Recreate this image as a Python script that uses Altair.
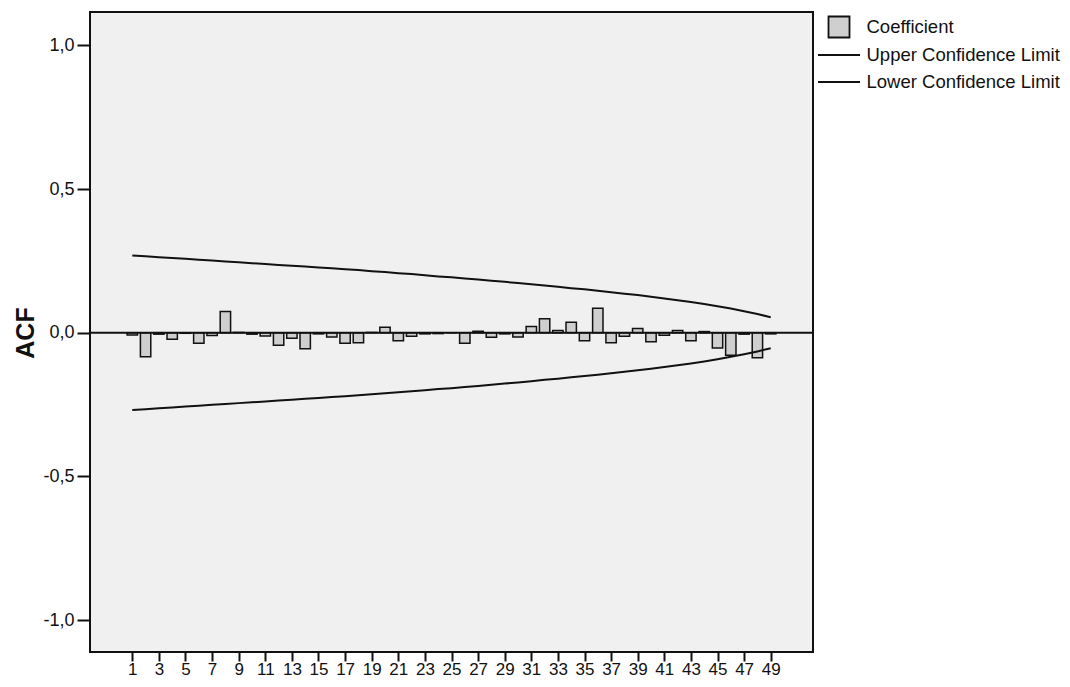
import altair as alt
import pandas as pd

# ---- data ----
lags = list(range(1, 50))
acf = [-0.008, -0.084, -0.005, -0.023, -0.002, -0.037, -0.010, 0.074, 0.001, -0.005,
       -0.011, -0.044, -0.019, -0.056, -0.004, -0.015, -0.037, -0.035, 0.001, 0.019,
       -0.028, -0.012, -0.004, -0.003, 0.000, -0.037, 0.005, -0.016, -0.004, -0.015,
       0.022, 0.049, 0.008, 0.036, -0.028, 0.085, -0.035, -0.012, 0.015, -0.031,
       -0.009, 0.008, -0.028, 0.004, -0.053, -0.078, -0.005, -0.087, -0.004]
upper = [0.269, 0.266, 0.263, 0.260, 0.257, 0.254, 0.251, 0.248, 0.245, 0.242,
         0.239, 0.236, 0.233, 0.230, 0.227, 0.224, 0.221, 0.218, 0.214, 0.211,
         0.207, 0.204, 0.200, 0.196, 0.193, 0.189, 0.185, 0.181, 0.177, 0.173,
         0.169, 0.164, 0.160, 0.155, 0.151, 0.146, 0.141, 0.136, 0.131, 0.125,
         0.119, 0.113, 0.107, 0.100, 0.092, 0.084, 0.075, 0.065, 0.054]
lower = [-0.269, -0.266, -0.263, -0.260, -0.257, -0.254, -0.251, -0.248, -0.245, -0.242,
         -0.239, -0.236, -0.233, -0.230, -0.227, -0.224, -0.221, -0.218, -0.214, -0.211,
         -0.207, -0.204, -0.200, -0.196, -0.193, -0.189, -0.185, -0.181, -0.177, -0.173,
         -0.169, -0.164, -0.160, -0.155, -0.151, -0.146, -0.141, -0.136, -0.131, -0.125,
         -0.119, -0.113, -0.107, -0.100, -0.092, -0.084, -0.075, -0.065, -0.054]
series_names = ["Coefficient", "Upper Confidence Limit", "Lower Confidence Limit"]
x_tick_values = list(range(1, 50, 2))
y_tick_values = [-1.0, -0.5, 0.0, 0.5, 1.0]

df = pd.DataFrame({"lag": lags, "acf": acf, "upper": upper, "lower": lower})
zero_df = pd.DataFrame({"v": [0.0]})
leg_df = pd.DataFrame({"series": series_names})

FONT = "Liberation Sans"
INK = "#111111"

xscale = alt.Scale(domain=[-2.18, 52.18], nice=False, zero=False)
yscale = alt.Scale(domain=[-1.111, 1.116], nice=False, zero=False)

xaxis = alt.Axis(values=x_tick_values, title=None, labelOverlap=False, labelFlush=False,
                 labelBound=False, labelSeparation=0)
yaxis = alt.Axis(
    values=y_tick_values,
    title="ACF",
    labelOverlap=False,
    labelExpr="(datum.value < 0 ? '-' : '') + replace(format(abs(datum.value), '.1f'), '.', ',')",
)

bars = (
    alt.Chart(df)
    .transform_calculate(x0="datum.lag - 0.39", x1="datum.lag + 0.39")
    .mark_bar(fill="#cfcfcf", stroke=INK, strokeWidth=1.5)
    .encode(
        x=alt.X("x0:Q", scale=xscale, axis=xaxis),
        x2="x1:Q",
        y=alt.Y("acf:Q", scale=yscale, axis=yaxis),
        y2=alt.datum(0),
    )
)

zero_line = (
    alt.Chart(zero_df)
    .mark_rule(color=INK, strokeWidth=2)
    .encode(y=alt.Y("v:Q", scale=yscale, axis=yaxis))
)

upper_line = (
    alt.Chart(df)
    .mark_line(color=INK, strokeWidth=2)
    .encode(x=alt.X("lag:Q", scale=xscale, axis=xaxis), y=alt.Y("upper:Q", scale=yscale, axis=yaxis))
)
lower_line = (
    alt.Chart(df)
    .mark_line(color=INK, strokeWidth=2)
    .encode(x=alt.X("lag:Q", scale=xscale, axis=xaxis), y=alt.Y("lower:Q", scale=yscale, axis=yaxis))
)

line_symbol = "M-2,-0.85M2,0.85M-2,0H2"
legend_layer = (
    alt.Chart(leg_df)
    .mark_point(opacity=0, strokeWidth=1.8)
    .encode(
        x=alt.XDatum(1, scale=xscale, axis=xaxis),
        y=alt.YDatum(0, scale=yscale, axis=yaxis),
        shape=alt.Shape(
            "series:N",
            scale=alt.Scale(domain=series_names, range=["square", line_symbol, line_symbol]),
            legend=alt.Legend(title=None),
        ),
        fill=alt.Fill(
            "series:N",
            scale=alt.Scale(domain=series_names, range=["#cfcfcf", "transparent", "transparent"]),
            legend=alt.Legend(title=None),
        ),
        stroke=alt.Stroke(
            "series:N",
            scale=alt.Scale(domain=series_names, range=[INK, INK, INK]),
            legend=alt.Legend(title=None),
        ),
    )
)

chart = (
    alt.layer(bars, zero_line, upper_line, lower_line, legend_layer)
    .properties(
        width=723,
        height=640,
        autosize=alt.AutoSizeParams(type="none"),
        padding={"left": 82, "top": 4, "right": 249, "bottom": 27},
    )
    .configure_view(fill="#f0f0f0", stroke=INK, strokeWidth=2)
    .configure_axis(
        grid=False,
        domain=False,
        labelFont=FONT,
        labelColor=INK,
        tickColor=INK,
        tickWidth=2,
        titleFont=FONT,
        titleColor=INK,
        labelOverlap=False,
    )
    .configure_axisY(
        labelFontSize=18,
        tickSize=13,
        labelPadding=3,
        titleFontSize=25,
        titleFontWeight="bold",
        titleAngle=-90,
        titleX=-57,
        titleY=320.5,
        titleAlign="center",
        titleBaseline="alphabetic",
    )
    .configure_axisX(labelFontSize=17, tickSize=9, labelPadding=0, labelOverlap=False)
    .configure_legend(
        orient="none",
        legendX=737.5,
        legendY=3.5,
        padding=0,
        symbolSize=441,
        symbolStrokeWidth=1.8,
        symbolStrokeColor=INK,
        symbolOpacity=1,
        labelFont=FONT,
        labelFontSize=18.5,
        labelColor=INK,
        labelOffset=16,
        labelLimit=0,
        rowPadding=0,
    )
)

chart.save("out.html", embed_options={"renderer": "svg", "actions": False})
